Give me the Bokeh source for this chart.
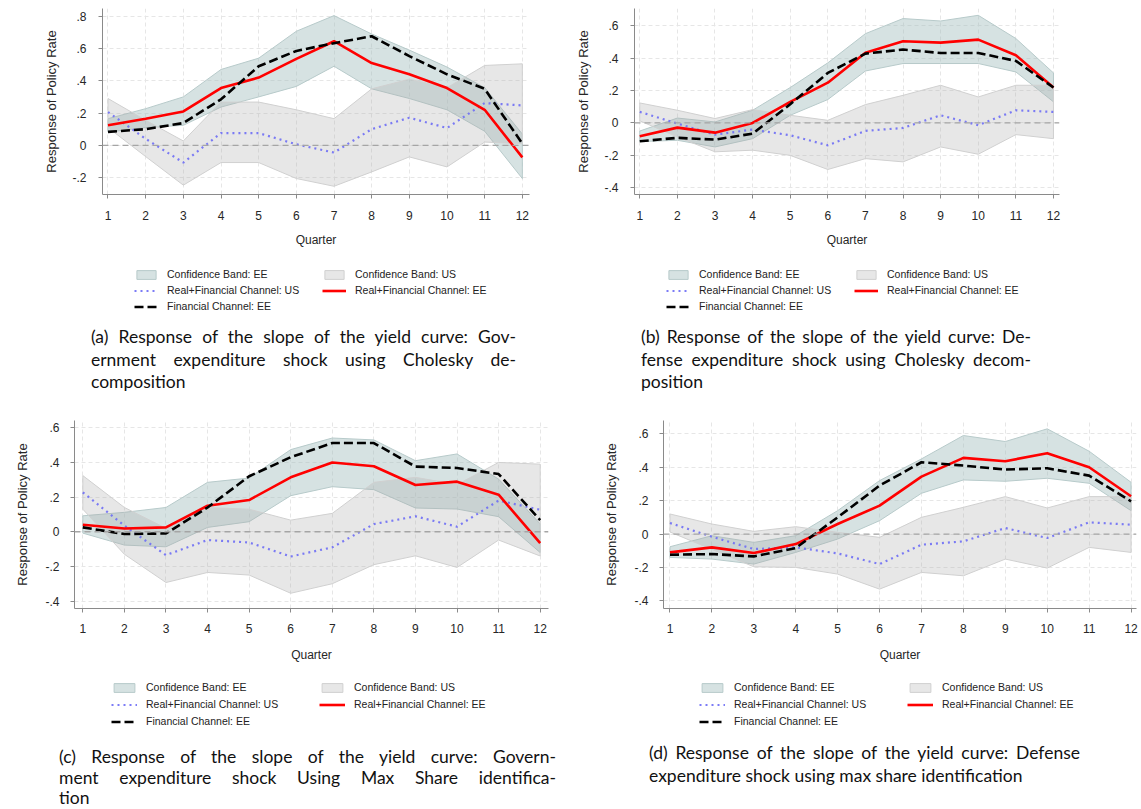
from bokeh.plotting import figure
from bokeh.models import (Legend, LegendItem, FixedTicker, CustomJSTickFormatter,
                          Span, Div, Range1d)
from bokeh.layouts import row, column
from bokeh.embed import file_html
from bokeh.resources import INLINE

quarters = list(range(1, 13))

# ---------------- panel (a) ----------------
a_ee_hi = [0.165, 0.227, 0.30, 0.47, 0.54, 0.707, 0.804, 0.69, 0.59, 0.485, 0.357, 0.07]
a_ee_lo = [0.082, 0.11, 0.124, 0.237, 0.30, 0.365, 0.49, 0.35, 0.29, 0.22, 0.087, -0.206]
a_us_hi = [0.29, 0.155, 0.027, 0.268, 0.268, 0.22, 0.165, 0.35, 0.41, 0.357, 0.495, 0.505]
a_us_lo = [0.11, -0.07, -0.247, -0.107, -0.107, -0.206, -0.254, -0.165, -0.072, -0.134, 0.02, 0.01]
a_us = [0.206, 0.04, -0.107, 0.076, 0.076, 0.006, -0.045, 0.10, 0.171, 0.107, 0.262, 0.247]
a_ee = [0.124, 0.165, 0.21, 0.355, 0.42, 0.536, 0.645, 0.51, 0.44, 0.355, 0.22, -0.075]
a_fin = [0.083, 0.10, 0.138, 0.285, 0.49, 0.585, 0.633, 0.676, 0.553, 0.44, 0.35, 0.01]

# ---------------- panel (b) ----------------
b_ee_hi = [-0.05, 0.03, 0.006, 0.078, 0.218, 0.37, 0.55, 0.643, 0.628, 0.663, 0.52, 0.308]
b_ee_lo = [-0.115, -0.107, -0.148, -0.097, 0.047, 0.144, 0.32, 0.366, 0.366, 0.366, 0.314, 0.13]
b_us_hi = [0.123, 0.078, 0.027, 0.082, 0.047, 0.016, 0.113, 0.17, 0.232, 0.16, 0.232, 0.232]
b_us_lo = [0.013, -0.086, -0.178, -0.168, -0.2, -0.287, -0.22, -0.24, -0.148, -0.193, -0.072, -0.097]
b_us = [0.068, -0.004, -0.072, -0.041, -0.076, -0.138, -0.049, -0.031, 0.047, -0.014, 0.078, 0.068]
b_ee = [-0.082, -0.029, -0.06, 0.0, 0.13, 0.248, 0.433, 0.503, 0.495, 0.513, 0.417, 0.218]
b_fin = [-0.113, -0.092, -0.103, -0.066, 0.115, 0.308, 0.427, 0.452, 0.431, 0.431, 0.382, 0.218]

# ---------------- panel (c) ----------------
c_ee_hi = [0.092, 0.112, 0.14, 0.285, 0.31, 0.474, 0.541, 0.53, 0.41, 0.449, 0.304, 0.045]
c_ee_lo = [-0.008, -0.077, -0.087, 0.025, 0.058, 0.208, 0.26, 0.243, 0.137, 0.131, 0.087, -0.12]
c_us_hi = [0.324, 0.14, 0.02, 0.14, 0.13, 0.067, 0.106, 0.285, 0.314, 0.272, 0.40, 0.39]
c_us_lo = [0.13, -0.13, -0.293, -0.235, -0.25, -0.355, -0.30, -0.19, -0.139, -0.206, -0.048, -0.14]
c_us = [0.227, 0.035, -0.135, -0.048, -0.062, -0.143, -0.09, 0.044, 0.089, 0.029, 0.18, 0.127]
c_ee = [0.04, 0.019, 0.025, 0.15, 0.183, 0.314, 0.40, 0.378, 0.27, 0.289, 0.214, -0.066]
c_fin = [0.025, -0.013, -0.01, 0.14, 0.32, 0.43, 0.512, 0.512, 0.376, 0.368, 0.333, 0.067]

# ---------------- panel (d) ----------------
d_ee_hi = [-0.076, -0.01, -0.05, -0.01, 0.14, 0.32, 0.45, 0.59, 0.554, 0.63, 0.496, 0.31]
d_ee_lo = [-0.14, -0.15, -0.18, -0.11, -0.03, 0.08, 0.244, 0.324, 0.316, 0.334, 0.304, 0.14]
d_us_hi = [0.12, 0.06, 0.016, 0.044, 0.01, -0.02, 0.1, 0.16, 0.224, 0.156, 0.224, 0.224]
d_us_lo = [0.012, -0.092, -0.196, -0.2, -0.24, -0.33, -0.23, -0.25, -0.15, -0.204, -0.08, -0.11]
d_us = [0.066, -0.016, -0.09, -0.08, -0.116, -0.18, -0.064, -0.044, 0.036, -0.024, 0.07, 0.056]
d_ee = [-0.11, -0.08, -0.114, -0.06, 0.06, 0.17, 0.344, 0.456, 0.436, 0.484, 0.40, 0.226]
d_fin = [-0.124, -0.12, -0.134, -0.084, 0.10, 0.29, 0.43, 0.41, 0.386, 0.394, 0.35, 0.196]

yticks_a = [-0.2, 0.0, 0.2, 0.4, 0.6, 0.8]
yticks_bcd = [-0.4, -0.2, 0.0, 0.2, 0.4, 0.6]

legend_labels = ["Confidence Band: EE", "Confidence Band: US",
                 "Real+Financial Channel: US", "Real+Financial Channel: EE",
                 "Financial Channel: EE"]
x_title = "Quarter"
y_title = "Response of Policy Rate"

captions = {
    "a": ["(a) Response of the slope of the yield curve: Gov-",
          "ernment expenditure shock using Cholesky de-",
          "composition"],
    "b": ["(b) Response of the slope of the yield curve: De-",
          "fense expenditure shock using Cholesky decom-",
          "position"],
    "c": ["(c) Response of the slope of the yield curve: Govern-",
          "ment expenditure shock Using Max Share identifica-",
          "tion"],
    "d": ["(d) Response of the slope of the yield curve: Defense",
          "expenditure shock using max share identification"],
}

FONT = "Liberation Sans"

EE_BAND = dict(fill_color="#a3bfbf", fill_alpha=0.45, line_color="#b7caca", line_width=1)
US_BAND = dict(fill_color="#a8a8a8", fill_alpha=0.28, line_color="#d0d0d0", line_width=1)
US_LINE = dict(line_color="#6e6ef5", line_width=2.2, line_dash="2 4", line_alpha=0.9)
EE_LINE = dict(line_color="#ff0000", line_width=2.6)
FIN_LINE = dict(line_color="black", line_width=2.6, line_dash="9 4")

fmt_code = """
const a = Math.abs(tick);
if (a < 1e-9) { return "0"; }
const s = a.toFixed(1).replace(/^0/, "");
return (tick < 0 ? "-" : "") + s;
"""


def draw_series(p, ee_lo, ee_hi, us_lo, us_hi, us, ee, fin):
    band_x = quarters + quarters[::-1]
    r1 = p.patch(band_x, ee_hi + ee_lo[::-1], **EE_BAND)
    r2 = p.patch(band_x, us_hi + us_lo[::-1], **US_BAND)
    r3 = p.line(quarters, us, **US_LINE)
    r4 = p.line(quarters, ee, **EE_LINE)
    r5 = p.line(quarters, fin, **FIN_LINE)
    return [r1, r2, r3, r4, r5]


def make_panel(series, yticks, xr, yr, width, height, borders, tick_standoff, title_standoff):
    bl, br, bt, bb = borders
    p = figure(width=width, height=height, x_range=Range1d(*xr), y_range=Range1d(*yr),
               output_backend="svg", toolbar_location=None,
               min_border_left=bl, min_border_right=br,
               min_border_top=bt, min_border_bottom=bb,
               outline_line_color=None, background_fill_color="white",
               border_fill_color="white")
    p.add_layout(Span(location=0, dimension="width", line_color="#a5a5a5",
                      line_dash="6 4", line_width=1.3))
    draw_series(p, *series)

    p.xaxis.ticker = FixedTicker(ticks=quarters)
    p.yaxis.ticker = FixedTicker(ticks=yticks)
    p.yaxis.formatter = CustomJSTickFormatter(code=fmt_code)
    p.xaxis.axis_label = x_title
    p.yaxis.axis_label = y_title
    for ax in (p.xaxis, p.yaxis):
        ax.axis_line_color = "#8a8a8a"
        ax.major_tick_line_color = "#8a8a8a"
        ax.major_tick_out = 4
        ax.major_tick_in = 0
        ax.minor_tick_line_color = None
        ax.major_label_text_font = FONT
        ax.major_label_text_font_size = "12px"
        ax.major_label_text_color = "#262626"
        ax.axis_label_text_font = FONT
        ax.axis_label_text_font_style = "normal"
        ax.axis_label_text_color = "#262626"
        ax.major_label_standoff = tick_standoff
        ax.axis_label_standoff = title_standoff
    p.xaxis.axis_label_text_font_size = "12px"
    p.yaxis.axis_label_text_font_size = "13px"
    for g in (p.xgrid, p.ygrid):
        g.grid_line_color = "#e6e6e6"
        g.grid_line_dash = "4 3"
        g.grid_line_width = 1
    return p


def make_legend(series, width, height, loc, glyph_w, standoff, label_w, spacing):
    # legend-only strip: the series are drawn outside its (empty) visible range,
    # so only the legend swatches and labels show
    lp = figure(width=width, height=height, x_range=Range1d(100, 101), y_range=Range1d(100, 101),
                output_backend="svg", toolbar_location=None,
                x_axis_type=None, y_axis_type=None,
                min_border_left=0, min_border_right=0, min_border_top=0, min_border_bottom=0,
                outline_line_color=None, background_fill_color="white",
                border_fill_color="white")
    lp.xgrid.visible = False
    lp.ygrid.visible = False
    rends = draw_series(lp, *series)
    items = [LegendItem(label=lab, renderers=[r]) for lab, r in zip(legend_labels, rends)]
    leg = Legend(items=items, orientation="horizontal", ncols=2, location=loc,
                 glyph_width=glyph_w, glyph_height=11, label_height=14,
                 label_width=label_w, label_standoff=standoff,
                 spacing=spacing, padding=0, margin=0,
                 border_line_alpha=0, background_fill_alpha=0,
                 label_text_font=FONT, label_text_font_size="10.5px",
                 label_text_color="#222222")
    lp.add_layout(leg, "center")
    return lp


def make_caption(lines, width, left, top, height, lh, fs):
    parts = []
    for i, ln in enumerate(lines):
        last = (i == len(lines) - 1)
        style = "text-align:%s;text-align-last:%s;" % (("left", "left") if last else ("justify", "justify"))
        parts.append('<div style="%s">%s</div>' % (style, ln))
    html = ('<div style="width:%dpx;font-family:Lato;font-size:%spx;line-height:%spx;color:#111111;">'
            % (width, fs, lh)) + "".join(parts) + "</div>"
    return Div(text=html, width=width, height=height, margin=(top, 0, 0, left))


sa = (a_ee_lo, a_ee_hi, a_us_lo, a_us_hi, a_us, a_ee, a_fin)
sb = (b_ee_lo, b_ee_hi, b_us_lo, b_us_hi, b_us, b_ee, b_fin)
sc = (c_ee_lo, c_ee_hi, c_us_lo, c_us_hi, c_us, c_ee, c_fin)
sd = (d_ee_lo, d_ee_hi, d_us_lo, d_us_hi, d_us, d_ee, d_fin)

pa = make_panel(sa, yticks_a, (0.854, 12.19), (-0.305, 0.848), 570, 258, (102, 41, 8, 64), 12, 10)
pb = make_panel(sb, yticks_bcd, (0.86, 12.16), (-0.441, 0.705), 571, 258, (64, 82, 8, 64), 12, 10)
pc = make_panel(sc, yticks_bcd, (0.80, 12.2), (-0.443, 0.642), 585, 262, (74, 37, 15, 59), 11, 12)
pd = make_panel(sd, yticks_bcd, (0.845, 12.13), (-0.446, 0.68), 556, 262, (78, 5, 15, 59), 11, 12)

la = make_legend(sa, 570, 62, (32, 7), 24, 9, 153, 2)
lb = make_legend(sb, 571, 62, (32, 7), 24, 9, 153, 2)
lc = make_legend(sc, 585, 63, (37, 2), 26, 9, 170, 3)
ld = make_legend(sd, 556, 63, (36, 2), 26, 9, 170, 3)

ca = make_caption(captions["a"], 425, 91, 6, 79, 22.5, 17.5)
cb = make_caption(captions["b"], 390, 71, 6, 79, 22.5, 17.5)
cc = make_caption(captions["c"], 497, 59, 17, 62, 20.5, 17.5)
cd = make_caption(captions["d"], 431, 64, 12, 62, 22.7, 17.5)

layout = column(row(column(pa, la, ca), column(pb, lb, cb)),
                row(column(pc, lc, cc), column(pd, ld, cd)))

open("out.html", "w").write(file_html(layout, INLINE))
